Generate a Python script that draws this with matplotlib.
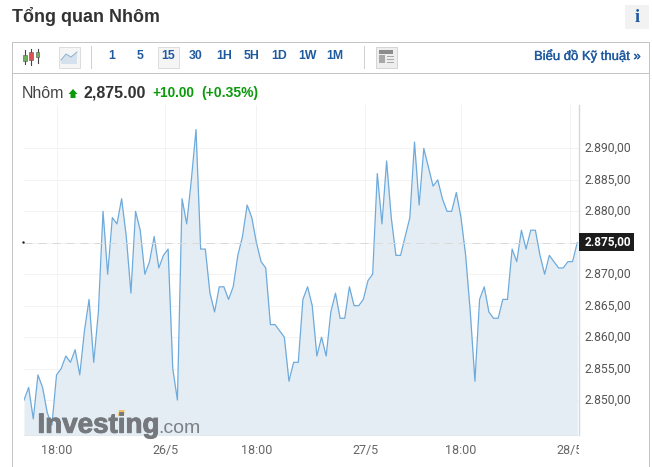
import matplotlib
matplotlib.use('Agg')
import matplotlib.pyplot as plt
import matplotlib.patheffects as pe
from matplotlib.patches import Rectangle, Polygon
from matplotlib.transforms import Bbox, ScaledTranslation

prices = [2850, 2852, 2847, 2854, 2852, 2848, 2846, 2854, 2855, 2857,
          2856, 2858, 2854, 2861, 2866, 2856, 2864, 2880, 2870, 2879,
          2878, 2882, 2876, 2867, 2880, 2877, 2870, 2872, 2876, 2871,
          2873, 2874, 2855, 2850, 2882, 2878, 2885, 2893, 2874, 2874,
          2867, 2864, 2868, 2868, 2866, 2868, 2873, 2876, 2881, 2879,
          2875, 2872, 2871, 2862, 2862, 2861, 2860, 2853, 2856, 2856,
          2866, 2868, 2865, 2857, 2860, 2857, 2864, 2867, 2863, 2863,
          2868, 2865, 2865, 2866, 2869, 2870, 2886, 2878, 2888, 2879,
          2873, 2873, 2876, 2879, 2891, 2881, 2890, 2887, 2884, 2885,
          2882, 2880, 2880, 2883, 2879, 2873, 2864, 2853, 2866, 2868,
          2864, 2863, 2863, 2866, 2866, 2874, 2872, 2877, 2874, 2877,
          2877, 2873, 2870, 2873, 2872, 2871, 2871, 2872, 2872, 2875]
x_ticks = [7, 30.4, 50, 73.4, 94, 117.4]
x_labels = ['18:00', '26/5', '18:00', '27/5', '18:00', '28/5']
y_ticks = [2850, 2855, 2860, 2865, 2870, 2875, 2880, 2885, 2890]
y_labels = ['2.850,00', '2.855,00', '2.860,00', '2.865,00', '2.870,00',
            '2.875,00', '2.880,00', '2.885,00', '2.890,00']
last_price = 2875
intervals = ['1', '5', '15', '30', '1H', '5H', '1D', '1W', '1M']
interval_x = [112, 140, 168, 195.5, 224, 251.5, 279.5, 307.5, 335]

W, H = 652, 467
BLUE = '#1f5a9e'
GREEN = '#0a9a0a'
PX = 0.72  # one pixel line
plt.rcParams['font.family'] = ['Liberation Sans', 'DejaVu Sans']

fig = plt.figure(figsize=(W / 100, H / 100), dpi=100, facecolor='white')

# chart area, placed by pixels
left, right, top, bottom = 24, 579.3, 105, 435.3
ax = fig.add_axes([left / W, 1 - bottom / H, (right - left) / W, (bottom - top) / H])
ax.set_xlim(0, 119.45)
ax.set_ylim(2844.4, 2896.9)
xs = list(range(len(prices)))
ax.fill_between(xs, prices, 2844.4, color='#e3edf3', lw=0, zorder=2)
ax.plot(xs, prices, color='#6eaadb', lw=0.9, zorder=3)
ax.axhline(last_price, color='#d9d9d9', lw=PX, dashes=(8, 6), zorder=4)
ax.grid(True, color='#f3f3f3', lw=PX, zorder=1)
ax.set_axisbelow(True)
ax.set_facecolor('white')

ax.set_xticks(x_ticks)
ax.set_xticklabels(x_labels, family=['Roboto', 'DejaVu Sans'], fontsize=9, color='#666666')
ax.set_yticks(y_ticks)
ax.yaxis.tick_right()
ax.set_yticklabels(y_labels, family=['Roboto', 'DejaVu Sans'], fontsize=8.8, color='#555555')
ax.tick_params(axis='x', length=0, pad=6)
ax.tick_params(axis='y', length=0, pad=4)
for side in ['top', 'left']:
    ax.spines[side].set_visible(False)
ax.spines['right'].set_color('#d4d8dc')
ax.spines['right'].set_linewidth(1.0)
ax.spines['bottom'].set_color('#e4e8ec')
ax.spines['bottom'].set_linewidth(PX)

# 28/5 is cut off by the price axis
for lab in ax.get_xticklabels():
    lab.set_clip_on(True)
    lab.set_clip_box(Bbox([[0, 0], [right, H]]))
up = ScaledTranslation(0, 1.2 / 100, fig.dpi_scale_trans)
for lab, val in zip(ax.get_yticklabels(), y_ticks):
    lab.set_transform(lab.get_transform() + up)
    if val == last_price:
        lab.set_visible(False)

# page chrome drawn on a pixel overlay
ov = fig.add_axes([0, 0, 1, 1], zorder=5)
ov.set_xlim(0, W)
ov.set_ylim(H, 0)
ov.axis('off')
ov.patch.set_alpha(0)

# current price flag
ov.add_patch(Rectangle((579, 233), 55, 18, fc='#1c1c1c', ec='none'))
ov.text(585, 241.5, y_labels[y_ticks.index(last_price)], family=['Roboto', 'DejaVu Sans'],
        fontsize=8.5, fontweight='bold', color='white', va='center')

ov.text(12, 16, 'Tổng quan Nhôm', fontsize=12.9, fontweight='bold', color='#333333', va='center')
ov.add_patch(Rectangle((625, 5), 24, 24, fc='#f2f2f2', ec='none'))
ov.text(637, 17, 'i', family=['Liberation Serif'], fontsize=13, fontweight='bold', color=BLUE,
        ha='center', va='center')

# frame and toolbar
ov.plot([11.5, 11.5, 648.5, 648.5], [467, 41.5, 41.5, 467], color='#c4c4c4', lw=PX)
ov.plot([11.5, 648.5], [72.5, 72.5], color='#c4c4c4', lw=PX)
for sx in [90.5, 363.5]:
    ov.plot([sx, sx], [46, 68], color='#d0d0d0', lw=PX)

# candle icon
for cx, y0, y1, b0, b1, col in [(25, 50, 64, 55, 61, '#6fae5a'),
                                (31, 49, 65, 52, 60, '#d9534f'),
                                (37.5, 49, 63, 52, 57, '#6fae5a')]:
    ov.plot([cx, cx], [y0, y1], color='#444444', lw=0.8)
    ov.add_patch(Rectangle((cx - 1.8, b0), 3.6, b1 - b0, fc=col, ec='#555555', lw=0.4, zorder=3))

# line icon
ov.add_patch(Rectangle((58.5, 46.5), 21, 21, fc='#f5f5f5', ec='#dddddd', lw=PX))
ov.add_patch(Polygon([(61, 64), (61, 60), (66, 54), (71, 57), (77, 52), (77, 64)],
                     fc='#d5e2ee', ec='none'))
ov.plot([61, 66, 71, 77], [60, 54, 57, 52], color='#8fb2d0', lw=PX)

# selected interval
ov.add_patch(Rectangle((157.5, 46.5), 21, 21, fc='#f5f5f5', ec='#dddddd', lw=PX))
for name, ix in zip(intervals, interval_x):
    ov.text(ix, 56, name, fontsize=8.8, fontweight='bold', color=BLUE, ha='center', va='center')

# news icon
ov.add_patch(Rectangle((375.5, 46.5), 21, 21, fc='#eeeeee', ec='#d5d5d5', lw=PX))
ov.add_patch(Rectangle((379, 50), 14, 3.5, fc='#8c8c8c', ec='none'))
ov.add_patch(Rectangle((379, 55), 6, 8, fc='#a8a8a8', ec='none'))
for ly in [56, 59, 62]:
    ov.plot([387, 393], [ly, ly], color='#a8a8a8', lw=PX)

ov.text(640.5, 56, 'Biểu đồ Kỹ thuật »', fontsize=9.4, color=BLUE, ha='right', va='center',
        path_effects=[pe.withStroke(linewidth=0.25, foreground=BLUE)])

# price header
ov.text(22, 93, 'Nhôm', fontsize=11.5, color='#444444', va='center')
ov.add_patch(Polygon([(68.5, 94), (73, 89), (77.5, 94), (75.5, 94), (75.5, 98), (70.5, 98), (70.5, 94)],
                     fc=GREEN, ec='none'))
ov.text(83.5, 92.5, '2,875.00', fontsize=11.5, fontweight='bold', color='#333333', va='center')
ov.text(152, 93, '+10.00', fontsize=9.8, fontweight='bold', color=GREEN, va='center')
ov.text(201, 93, '(+0.35%)', fontsize=10, fontweight='bold', color=GREEN, va='center')

# watermark
ov.text(37.5, 432.7, 'Investing', fontsize=20, fontweight='bold', color='#75797d', va='baseline',
        path_effects=[pe.withStroke(linewidth=0.7, foreground='#75797d')])
ov.text(158.5, 432.7, '.com', fontsize=14, color='#7d8185', va='baseline')
ov.add_patch(Polygon([(118, 416), (119, 410), (124.5, 410), (124, 416)], fc='#f0c060', ec='none'))

# small dot at start of the last price line
ov.plot([22.5], [241.5], marker='s', ms=0.7, color='#222222')

fig.savefig('out.png', dpi=100)
